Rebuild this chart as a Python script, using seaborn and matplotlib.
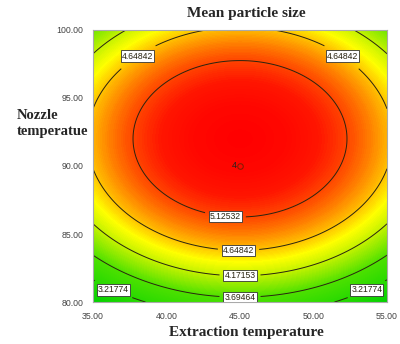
import numpy as np
import seaborn as sns
import matplotlib.pyplot as plt
from matplotlib.colors import LinearSegmentedColormap

# fitted quadratic model, coded units: X=(T-45)/10, Z=(N-90)/10
intercept = 5.586
coef_x2 = -0.87
coef_z2 = -1.395
z_center = 0.2

levels = [3.21774, 3.69464, 4.17153, 4.64842, 5.12532]
x_ticks = [35, 40, 45, 50, 55]
y_ticks = [80, 85, 90, 95, 100]

# label spots (T, N)
label_spots = [(37.9, 98.3), (52.1, 98.3), (44.0, 86.3), (44.9, 83.8),
               (45.0, 82.05), (45.0, 80.45), (36.4, 80.95), (53.6, 80.95)]
center_point = (45, 90)
center_reps = "4"

T = np.linspace(35, 55, 300)
N = np.linspace(80, 100, 300)
TT, NN = np.meshgrid(T, N)
X = (TT - 45) / 10
Z = (NN - 90) / 10
F = intercept + coef_x2 * X**2 + coef_z2 * (Z - z_center)**2

sns.set_style("white")
plt.rcParams['font.family'] = ['Liberation Sans', 'DejaVu Sans']

vmin, vmax = 2.7, 5.6
nodes = [(2.7, (0.0, 0.82, 0.0)), (3.7, (0.3, 0.88, 0.0)), (4.2, (0.78, 0.95, 0.0)),
         (4.45, (1.0, 1.0, 0.0)), (4.7, (1.0, 0.72, 0.0)), (5.1, (1.0, 0.3, 0.0)),
         (5.35, (1.0, 0.08, 0.0)), (5.6, (1.0, 0.0, 0.0))]
cmap = LinearSegmentedColormap.from_list(
    "de", [((v - vmin) / (vmax - vmin), c) for v, c in nodes])

fig = plt.figure(figsize=(4, 3.44), dpi=100)
ax = fig.add_axes([0.2325, 0.122, 0.735, 0.791])

ax.contourf(TT, NN, F, levels=150, cmap=cmap, vmin=vmin, vmax=vmax)
cs = ax.contour(TT, NN, F, levels=levels, colors="#2a2410", linewidths=0.7)
labels = ax.clabel(cs, fmt="%.5f", fontsize=6.2, inline=True, manual=label_spots)
for t in labels:
    t.set_bbox(dict(facecolor="white", edgecolor="#333333", linewidth=0.6, pad=0.8))
    t.set_rotation(0)

ax.plot(*center_point, marker="o", markersize=4, markerfacecolor="none",
        markeredgecolor="#8b1a00", markeredgewidth=0.8)
ax.text(center_point[0] - 0.25, center_point[1], center_reps, fontsize=6.5,
        ha="right", va="center", color="#222222")

ax.set_xlim(35, 55)
ax.set_ylim(80, 100)
ax.set_xticks(x_ticks)
ax.set_yticks(y_ticks)
ax.set_xticklabels([f"{v:.2f}" for v in x_ticks])
ax.set_yticklabels([f"{v:.2f}" for v in y_ticks])
ax.tick_params(axis="both", direction="out", length=4, width=0.8, color="#777777",
               labelsize=6.3, labelcolor="#444444", pad=3)
for s in ax.spines.values():
    s.set_color("#aaaaaa")
    s.set_linewidth(0.8)

serif = ['Liberation Serif', 'DejaVu Serif']
fig.text(0.615, 0.96, "Mean particle size", family=serif, fontsize=11,
         fontweight="bold", ha="center", va="center")
fig.text(0.617, 0.032, "Extraction temperature", family=serif, fontsize=11,
         fontweight="bold", ha="center", va="center")
fig.text(0.0425, 0.64, "Nozzle\ntemperatue", family=serif, fontsize=10.5,
         fontweight="bold", ha="left", va="center", linespacing=1.3)

plt.savefig("out.png", dpi=100)
